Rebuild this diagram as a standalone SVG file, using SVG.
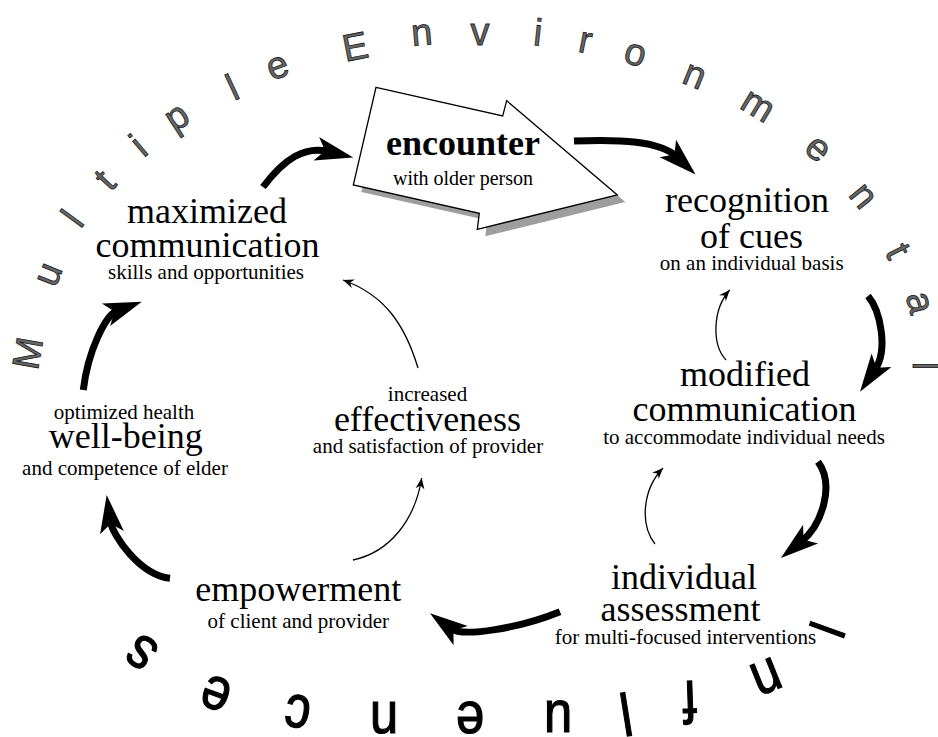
<svg xmlns="http://www.w3.org/2000/svg" width="938" height="737" viewBox="0 0 938 737">
  <style>
    .serif { font-family: 'Liberation Serif', 'DejaVu Serif', serif; }
    .big { font-size: 36px; fill: #000; text-anchor: middle; }
    .small { font-size: 21px; fill: #000; text-anchor: middle; }
    .title { font-size: 36px; font-weight: bold; fill: #000; text-anchor: middle; }
    .sub { font-size: 20px; fill: #000; text-anchor: middle; }
    .env { font-family: 'Liberation Sans', Arial, sans-serif; font-size: 38px; fill: #666; stroke: #1a1a1a; stroke-width: 0.8; text-anchor: middle; }
    .inf { font-family: 'Liberation Sans', Arial, sans-serif; font-size: 60px; fill: #000; stroke: #000; stroke-width: 1.2; text-anchor: middle; }
    .thick { fill: none; stroke: #000; stroke-width: 7; marker-end: url(#headBig); }
    .thin { fill: none; stroke: #000; stroke-width: 1.3; marker-end: url(#headSmall); }
  </style>
  <defs>
    <marker id="headBig" markerUnits="userSpaceOnUse" viewBox="-14 -14 42 28" markerWidth="42" markerHeight="28" refX="0" refY="0" orient="auto" overflow="visible">
      <path d="M-12,-12 L26,0 L-12,12 L-3,0 Z" fill="#000"/>
    </marker>
    <marker id="headSmall" markerUnits="userSpaceOnUse" viewBox="-12 -6 14 12" markerWidth="14" markerHeight="12" refX="0" refY="0" orient="auto" overflow="visible">
      <path d="M-11,-4.5 L0,0 L-11,4.5 L-7.5,0 Z" fill="#000"/>
    </marker>
  </defs>

  <rect width="938" height="737" fill="#fff"/>

  <!-- surrounding arc lettering, upper half -->
  <g id="environment-label">
    <text class="env" transform="translate(27,353) rotate(-80)" y="13.6">M</text>
    <text class="env" transform="translate(50,275) rotate(-68)" y="10">u</text>
    <text class="env" transform="translate(72,218) rotate(-54)" y="13.6">l</text>
    <text class="env" transform="translate(105,180) rotate(-47)" y="12.5">t</text>
    <text class="env" transform="translate(138,145) rotate(-40)" y="13.6">i</text>
    <text class="env" transform="translate(180,122) rotate(-33)" y="6">p</text>
    <text class="env" transform="translate(232,87) rotate(-25)" y="13.6">l</text>
    <text class="env" transform="translate(278,68) rotate(-20)" y="10">e</text>
    <text class="env" transform="translate(355,46) rotate(-11)" y="13.6">E</text>
    <text class="env" transform="translate(422,35) rotate(-5)" y="10">n</text>
    <text class="env" transform="translate(480,35) rotate(0)" y="10">v</text>
    <text class="env" transform="translate(538,32) rotate(6)" y="13.6">i</text>
    <text class="env" transform="translate(585,43) rotate(11)" y="10">r</text>
    <text class="env" transform="translate(635,55) rotate(16)" y="10">o</text>
    <text class="env" transform="translate(694,77) rotate(22)" y="10">n</text>
    <text class="env" transform="translate(757,107) rotate(31)" y="10">m</text>
    <text class="env" transform="translate(817,150) rotate(41)" y="10">e</text>
    <text class="env" transform="translate(862,197) rotate(51)" y="10">n</text>
    <text class="env" transform="translate(898,251) rotate(63)" y="12.5">t</text>
    <text class="env" transform="translate(918,303) rotate(75)" y="10">a</text>
    <text class="env" transform="translate(927,366) rotate(90)" y="13.6">l</text>
  </g>

  <!-- surrounding arc lettering, lower half (reads upside down) -->
  <g id="influences-label">
    <text class="inf" transform="translate(828,630) rotate(110) scale(0.85,1)" y="19" style="font-size:53px">I</text>
    <text class="inf" transform="translate(766,676) rotate(158) scale(0.85,1)" y="15.5">n</text>
    <text class="inf" transform="translate(690,703) rotate(178) scale(0.85,1)" y="22">f</text>
    <text class="inf" transform="translate(626,714) rotate(171) scale(0.85,1)" y="21.5">l</text>
    <text class="inf" transform="translate(558,717) rotate(180) scale(0.85,1)" y="15.5">u</text>
    <text class="inf" transform="translate(470,718) rotate(180) scale(0.85,1)" y="15.5">e</text>
    <text class="inf" transform="translate(384,718) rotate(180) scale(0.85,1)" y="15.5">n</text>
    <text class="inf" transform="translate(298,711) rotate(190) scale(0.85,1)" y="15.5">c</text>
    <text class="inf" transform="translate(216,693) rotate(200) scale(0.85,1)" y="15.5">e</text>
    <text class="inf" transform="translate(142,652) rotate(215) scale(0.85,1)" y="15.5">s</text>
  </g>

  <!-- connectors -->
  <g id="connectors">
    <path class="thick" d="M263,187 C285,158 305,146 328,151.5"/>
    <path class="thick" d="M574,141 C620,139 660,141 676.6,156.6"/>
    <path class="thick" d="M868,296 C880,310 888.8,349.6 874.7,370.2"/>
    <path class="thick" d="M818,461.7 C835,485 822,525 801.2,541.7"/>
    <path class="thick" d="M560,611.7 C520,628 463.2,637.5 451,628.6"/>
    <path class="thick" d="M170,578.3 C140,575 112.4,535.6 110.3,520.7"/>
    <path class="thick" d="M83.3,390 C88,350 106,314.7 117.3,310.6"/>

    <path class="thin" d="M418,368 C405,325 385,295 343,280"/>
    <path class="thin" d="M353,560 C390,552 415,520 421.7,478"/>
    <path class="thin" d="M655,544 C640,525 642,490 663,468"/>
    <path class="thin" d="M726,360 C712,345 712,310 729.7,290"/>
  </g>

  <!-- nodes -->
  <g id="encounter">
    <polygon points="384,94.3 510.7,123 514.7,107.7 625.3,202 485.3,236.3 487.3,220.3 361.3,192" fill="#9e9e9e"/>
    <polygon points="376,87.3 502.7,116 506.7,100.7 617.3,195 477.3,229.3 479.3,213.3 353.3,185" fill="#fff" stroke="#000" stroke-width="1.3"/>
    <text class="serif title" font-family="Liberation Serif, serif" x="463" y="155">encounter</text>
    <text class="serif sub" font-family="Liberation Serif, serif" x="463" y="185">with older person</text>
  </g>

  <g id="recognition" class="serif" font-family="Liberation Serif, serif">
    <text class="big" x="747" y="211.7">recognition</text>
    <text class="big" x="751.5" y="248">of cues</text>
    <text class="small" x="751.7" y="270">on an individual basis</text>
  </g>

  <g id="modified" class="serif" font-family="Liberation Serif, serif">
    <text class="big" x="745" y="386">modified</text>
    <text class="big" x="744.5" y="421">communication</text>
    <text class="small" x="744" y="444">to accommodate individual needs</text>
  </g>

  <g id="assessment" class="serif" font-family="Liberation Serif, serif">
    <text class="big" x="684" y="588.7">individual</text>
    <text class="big" x="680.5" y="621">assessment</text>
    <text class="small" x="685.5" y="644">for multi-focused interventions</text>
  </g>

  <g id="empowerment" class="serif" font-family="Liberation Serif, serif">
    <text class="big" x="298.3" y="601.3">empowerment</text>
    <text class="small" x="298.3" y="628">of client and provider</text>
  </g>

  <g id="well-being" class="serif" font-family="Liberation Serif, serif">
    <text class="small" x="124" y="418.7">optimized health</text>
    <text class="big" x="125.8" y="448">well-being</text>
    <text class="small" x="125" y="475.3">and competence of elder</text>
  </g>

  <g id="effectiveness" class="serif" font-family="Liberation Serif, serif">
    <text class="small" x="427.5" y="401">increased</text>
    <text class="big" x="427.5" y="431">effectiveness</text>
    <text class="small" x="428" y="453">and satisfaction of provider</text>
  </g>

  <g id="maximized" class="serif" font-family="Liberation Serif, serif">
    <text class="big" x="207" y="222.7">maximized</text>
    <text class="big" x="207.5" y="256.7">communication</text>
    <text class="small" x="206" y="279">skills and opportunities</text>
  </g>
</svg>
